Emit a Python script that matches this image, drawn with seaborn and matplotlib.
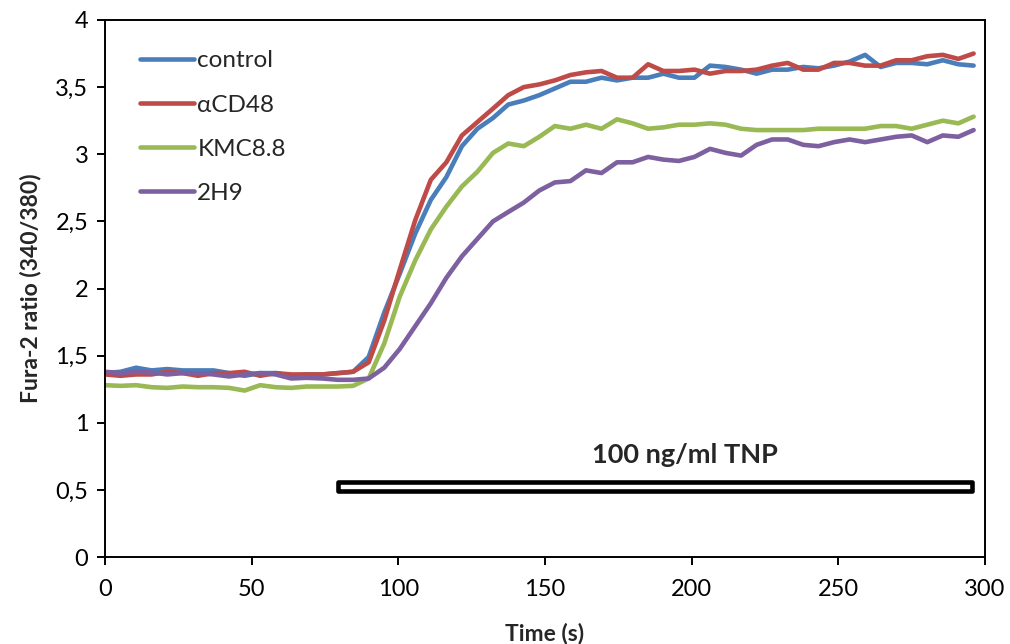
import numpy as np
import pandas as pd
import matplotlib
matplotlib.use("Agg")
import matplotlib.pyplot as plt
import matplotlib.patches as mpatches
import seaborn as sns

time_s = [0, 5.3, 10.6, 15.9, 21.2, 26.5, 31.7, 37.0, 42.3, 47.6, 52.9, 58.2, 63.5, 68.8,
          74.1, 79.4, 84.6, 89.9, 95.2, 100.5, 105.8, 111.1, 116.4, 121.7, 127.0, 132.3,
          137.5, 142.8, 148.1, 153.4, 158.7, 164.0, 169.3, 174.6, 179.9, 185.2, 190.4,
          195.7, 201.0, 206.3, 211.6, 216.9, 222.2, 227.5, 232.8, 238.1, 243.3, 248.6,
          253.9, 259.2, 264.5, 269.8, 275.1, 280.4, 285.7, 291.0, 296.2]

control = [1.37, 1.38, 1.41, 1.39, 1.40, 1.39, 1.39, 1.39, 1.37, 1.35, 1.37, 1.37, 1.35, 1.36,
           1.36, 1.37, 1.38, 1.49, 1.82, 2.11, 2.41, 2.66, 2.83, 3.06, 3.19, 3.27, 3.37, 3.40,
           3.44, 3.49, 3.54, 3.54, 3.57, 3.55, 3.57, 3.57, 3.60, 3.57, 3.57, 3.66, 3.65, 3.63,
           3.60, 3.63, 3.63, 3.65, 3.64, 3.66, 3.69, 3.74, 3.65, 3.68, 3.68, 3.67, 3.70, 3.67,
           3.66]

acd48 = [1.36, 1.35, 1.36, 1.36, 1.38, 1.37, 1.35, 1.37, 1.37, 1.38, 1.35, 1.37, 1.36, 1.36,
         1.36, 1.37, 1.38, 1.45, 1.76, 2.14, 2.51, 2.81, 2.94, 3.14, 3.24, 3.34, 3.44, 3.50,
         3.52, 3.55, 3.59, 3.61, 3.62, 3.57, 3.57, 3.67, 3.62, 3.62, 3.63, 3.60, 3.62, 3.62,
         3.63, 3.66, 3.68, 3.63, 3.63, 3.68, 3.68, 3.66, 3.66, 3.70, 3.70, 3.73, 3.74, 3.71,
         3.75]

kmc88 = [1.28, 1.275, 1.28, 1.265, 1.26, 1.27, 1.265, 1.265, 1.26, 1.24, 1.28, 1.265, 1.26,
         1.27, 1.27, 1.27, 1.275, 1.33, 1.59, 1.94, 2.21, 2.44, 2.61, 2.76, 2.87, 3.01, 3.08,
         3.06, 3.13, 3.21, 3.19, 3.22, 3.19, 3.26, 3.23, 3.19, 3.20, 3.22, 3.22, 3.23, 3.22,
         3.19, 3.18, 3.18, 3.18, 3.18, 3.19, 3.19, 3.19, 3.19, 3.21, 3.21, 3.19, 3.22, 3.25,
         3.23, 3.28]

h2h9 = [1.38, 1.37, 1.38, 1.375, 1.36, 1.37, 1.37, 1.36, 1.345, 1.36, 1.37, 1.36, 1.33,
        1.335, 1.33, 1.32, 1.32, 1.33, 1.41, 1.55, 1.72, 1.89, 2.08, 2.24, 2.37, 2.50, 2.57,
        2.64, 2.73, 2.79, 2.80, 2.88, 2.86, 2.94, 2.94, 2.98, 2.96, 2.95, 2.98, 3.04, 3.01,
        2.99, 3.07, 3.11, 3.11, 3.07, 3.06, 3.09, 3.11, 3.09, 3.11, 3.13, 3.14, 3.09, 3.14,
        3.13, 3.18]

series_names = ["control", "\u03b1CD48", "KMC8.8", "2H9"]
series_colors = ["#4A7EBB", "#BE4B48", "#98B954", "#7D60A0"]

y_ticks = [0, 0.5, 1, 1.5, 2, 2.5, 3, 3.5, 4]
y_tick_labels = ["0", "0,5", "1", "1,5", "2", "2,5", "3", "3,5", "4"]
x_ticks = [0, 50, 100, 150, 200, 250, 300]

stim_label = "100 ng/ml TNP"
stim_start, stim_end = 79.4, 295.8
stim_low, stim_high = 0.494, 0.556

frames = []
for name, vals in zip(series_names, [control, acd48, kmc88, h2h9]):
    assert len(vals) == len(time_s)
    frames.append(pd.DataFrame({"Time": time_s, "Ratio": vals, "Condition": name}))
df = pd.concat(frames, ignore_index=True)

sns.set_theme(style="white")
plt.rcParams["font.family"] = ["Lato", "DejaVu Sans"]

fig = plt.figure(figsize=(10.10, 6.44), dpi=100)
ax = fig.add_axes([0.104, 0.135, 0.871, 0.834])

sns.lineplot(data=df, x="Time", y="Ratio", hue="Condition", hue_order=series_names,
             palette=series_colors, linewidth=3.3, ax=ax, legend=True)

ax.set_xlim(0, 300)
ax.set_ylim(0, 4)
ax.set_xticks(x_ticks)
ax.set_xticklabels([str(v) for v in x_ticks])
ax.set_yticks(y_ticks)
ax.set_yticklabels(y_tick_labels)

for sp in ax.spines.values():
    sp.set_visible(True)
    sp.set_color("black")
    sp.set_linewidth(1.4)

ax.tick_params(axis="both", which="both", direction="out", length=6, width=1.4,
               colors="black", labelsize=17,
               bottom=True, left=True, top=False, right=False)
ax.tick_params(axis="x", pad=10)
ax.tick_params(axis="y", pad=6)

ax.set_xlabel("Time (s)", fontsize=16.5, fontweight="bold", labelpad=16)
ax.set_ylabel("Fura-2 ratio (340/380)", fontsize=16.5, fontweight="bold", labelpad=10)

rect = mpatches.Rectangle((stim_start, stim_low), stim_end - stim_start, stim_high - stim_low,
                          facecolor="white", edgecolor="black", linewidth=3.3,
                          joinstyle="round", zorder=3)
ax.add_patch(rect)
ax.text((stim_start + stim_end) / 2 + 10, 0.76, stim_label, fontsize=19.5,
        fontweight="bold", ha="center", va="center")

handles, labels = ax.get_legend_handles_labels()
leg = ax.legend(handles, labels, loc="upper left", bbox_to_anchor=(0.02, 0.975),
                frameon=False, fontsize=17.5, handlelength=2.25, handletextpad=0.12,
                labelspacing=0.95, borderaxespad=0.3)
for line in leg.get_lines():
    line.set_linewidth(3.3)
    line.set_solid_capstyle("round")

fig.savefig("out.png", dpi=100, facecolor="white")
